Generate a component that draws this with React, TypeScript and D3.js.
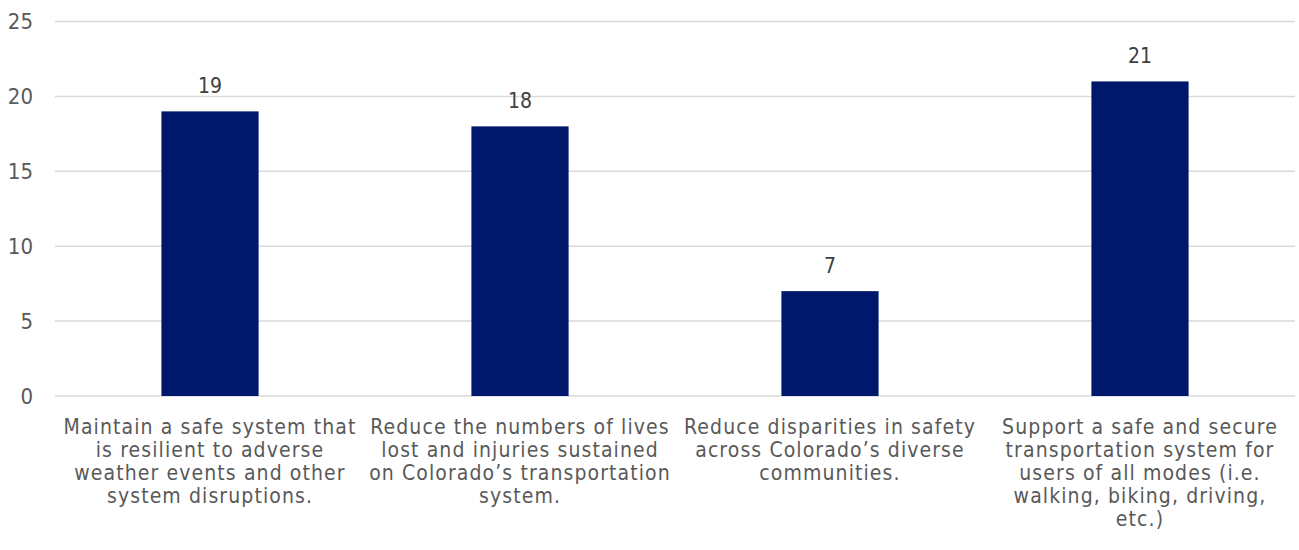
import React from "react";
import * as d3 from "d3";

const categories: string[][] = [
  ["Maintain a safe system that", "is resilient to adverse", "weather events and other", "system disruptions."],
  ["Reduce the numbers of lives", "lost and injuries sustained", "on Colorado\u2019s transportation", "system."],
  ["Reduce disparities in safety", "across Colorado\u2019s diverse", "communities."],
  ["Support a safe and secure", "transportation system for", "users of all modes (i.e.", "walking, biking, driving,", "etc.)"],
];
const values: number[] = [19, 18, 7, 21];
const yTicks: number[] = [0, 5, 10, 15, 20, 25];

const W = 1299;
const H = 550;
const FONT = "'DejaVu Sans Condensed', 'DejaVu Sans', sans-serif";

export default function App() {
  const left = 55;
  const right = 1295;
  const top = 21.5;
  const bottom = 396;
  const gap = 2.19;
  const p = gap / (1 + gap);
  const x = d3
    .scaleBand<number>()
    .domain(values.map((_, i) => i))
    .range([left, right])
    .paddingInner(p)
    .paddingOuter(p / 2);
  const y = d3.scaleLinear().domain([0, 25]).range([bottom, top]);

  return (
    <svg width={W} height={H} style={{ position: "absolute", left: 0, top: 0, background: "#fff" }} fontFamily={FONT}>
      {yTicks.map((t) => (
        <g key={t}>
          <line x1={left} x2={right} y1={y(t)} y2={y(t)} stroke="#d9d9d9" strokeWidth={1.5} />
          <text x={33} y={y(t)} textAnchor="end" dominantBaseline="central" fontSize={22} fill="#595959">
            {t}
          </text>
        </g>
      ))}
      {values.map((v, i) => {
        const bx = x(i)!;
        const bw = x.bandwidth();
        return (
          <g key={i}>
            <rect x={bx} y={y(v)} width={bw} height={y(0) - y(v)} fill="#00186B" />
            <text x={bx + bw / 2} y={y(v) - 18} textAnchor="middle" fontSize={21} fill="#404040">
              {v}
            </text>
            <text textAnchor="middle" fontSize={21} letterSpacing={1.1} fill="#595959">
              {categories[i].map((line, j) => (
                <tspan key={j} x={bx + bw / 2} y={434 + j * 23}>
                  {line}
                </tspan>
              ))}
            </text>
          </g>
        );
      })}
    </svg>
  );
}
